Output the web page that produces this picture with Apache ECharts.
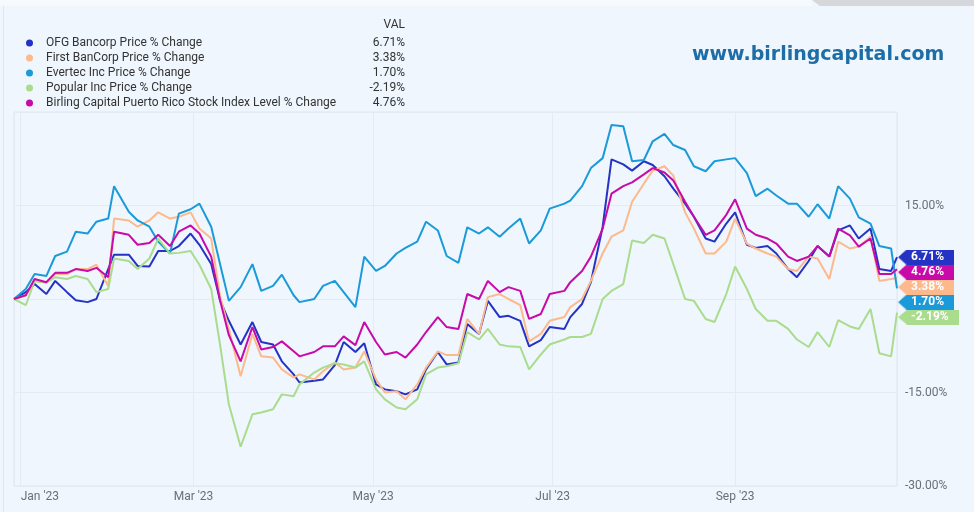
<!DOCTYPE html>
<html>
<head>
<meta charset="utf-8">
<script src="https://cdn.jsdelivr.net/npm/echarts@6/dist/echarts.min.js"></script>
<style>
html, body { margin: 0; padding: 0; background: #eff6fd; }
#main { width: 974px; height: 512px; }
</style>
</head>
<body>
<div id="main"></div>
<script>
var dates = ['2022-12-30','2023-01-03','2023-01-06','2023-01-10','2023-01-13','2023-01-17','2023-01-20','2023-01-24','2023-01-27','2023-01-31',
  '2023-02-02','2023-02-07','2023-02-10','2023-02-14','2023-02-17','2023-02-21','2023-02-24','2023-02-28','2023-03-03','2023-03-07',
  '2023-03-10','2023-03-13','2023-03-17','2023-03-21','2023-03-24','2023-03-28','2023-03-31','2023-04-04','2023-04-06','2023-04-11',
  '2023-04-14','2023-04-18','2023-04-21','2023-04-25','2023-04-28','2023-05-02','2023-05-05','2023-05-09','2023-05-12','2023-05-16',
  '2023-05-19','2023-05-23','2023-05-26','2023-05-30','2023-06-02','2023-06-06','2023-06-09','2023-06-13','2023-06-16','2023-06-20',
  '2023-06-23','2023-06-27','2023-06-30','2023-07-05','2023-07-07','2023-07-11','2023-07-14','2023-07-18','2023-07-21','2023-07-25',
  '2023-07-28','2023-08-01','2023-08-04','2023-08-08','2023-08-11','2023-08-15','2023-08-18','2023-08-22','2023-08-25','2023-08-29',
  '2023-09-01','2023-09-05','2023-09-08','2023-09-12','2023-09-15','2023-09-19','2023-09-22','2023-09-26','2023-09-29','2023-10-03',
  '2023-10-06','2023-10-10','2023-10-13','2023-10-17','2023-10-20','2023-10-24','2023-10-26'];

var ofg = [0, 1.1, 2.4, 0.8, 2.9, 1.1, -0.2, -0.5, 0, 4.8,
  7.1, 7.1, 5.3, 5.2, 7.7, 7.7, 8.5, 10.5, 8.7, 5.6,
  -0.2, -3.5, -7.3, -3.7, -6.9, -7.3, -10.0, -12.1, -13.4, -13.1,
  -12.9, -10.6, -6.9, -8.5, -7.1, -13.7, -14.5, -14.8, -15.3, -14.5,
  -11.3, -8.5, -10.5, -10.2, -4.0, -5.6, -0.3, -2.9, -2.7, -3.5,
  -7.6, -6.6, -4.5, -4.8, -2.9, -0.8, 2.7, 11.6, 22.4, 21.6,
  20.6, 22.1, 21.5, 19.7, 17.7, 15.3, 13.2, 9.7, 9.2, 12.1,
  13.9, 8.7, 8.2, 8.5, 7.3, 4.8, 3.5, 6.1, 8.5, 6.8,
  11.0, 11.8, 9.7, 11.3, 4.8, 4.5, 6.71];

var firstBancorp = [0, 0.6, 2.9, 2.7, 4.0, 4.0, 4.8, 4.8, 5.5, 2.1,
  12.9, 12.6, 11.6, 12.6, 13.9, 12.9, 13.2, 13.9, 11.3, 9.7,
  0.5, -4.8, -12.4, -5.6, -9.2, -9.4, -11.3, -12.6, -12.1, -12.9,
  -11.6, -10.2, -11.3, -11.0, -8.4, -12.9, -15.0, -14.8, -16.1, -13.7,
  -11.0, -8.4, -9.0, -9.0, -3.2, -5.6, 0.3, 0.8, 0, -1.0,
  -6.8, -5.6, -3.5, -2.9, -1.3, 0, 2.9, 7.3, 10.0, 11.0,
  15.6, 18.5, 20.6, 21.3, 19.8, 13.9, 11.3, 7.3, 7.3, 9.2,
  12.9, 8.9, 8.1, 7.3, 6.8, 4.8, 4.5, 6.8, 6.5, 3.2,
  9.2, 8.1, 8.4, 10.0, 2.9, 3.2, 3.38];

var evertec = [0, 1.6, 4.0, 3.7, 6.9, 7.6, 10.8, 10.5, 12.4, 12.9,
  18.1, 14.0, 12.6, 11.6, 9.2, 7.3, 13.7, 14.4, 15.3, 11.6,
  5.6, -0.3, 1.9, 5.6, 1.3, 2.1, 3.9, 0.6, -0.5, 0,
  2.1, 2.9, 1.1, -1.3, 6.8, 4.5, 5.3, 7.3, 8.2, 9.2,
  12.4, 11.0, 6.9, 5.8, 11.5, 10.5, 11.5, 10.0, 11.3, 12.9,
  8.9, 11.0, 14.5, 15.3, 15.8, 18.1, 21.0, 22.6, 27.9, 27.7,
  22.1, 22.3, 25.3, 26.5, 24.7, 23.9, 21.3, 20.5, 22.1, 22.4,
  22.6, 20.2, 16.5, 17.7, 16.6, 15.3, 15.3, 13.2, 15.2, 12.9,
  18.1, 16.1, 13.1, 12.1, 8.5, 8.1, 1.70];

var popular = [0, -1.0, 2.9, 2.6, 3.5, 3.2, 3.7, 3.2, 1.1, 1.6,
  6.5, 6.1, 4.8, 6.5, 9.7, 7.3, 7.4, 7.7, 5.5, 1.6,
  -7.3, -16.9, -23.7, -18.5, -18.2, -17.7, -15.3, -15.6, -13.7, -11.8,
  -11.0, -10.3, -10.5, -11.0, -10.0, -14.5, -16.1, -17.4, -17.7, -16.1,
  -12.1, -11.0, -10.8, -10.3, -5.3, -6.5, -4.8, -7.3, -7.6, -7.7,
  -11.3, -8.9, -7.3, -6.5, -6.1, -6.1, -5.6, 0, 1.3, 2.4,
  9.4, 9.0, 10.3, 9.7, 5.6, 0, -0.3, -3.2, -3.7, 0.8,
  5.2, 1.6, -1.6, -3.5, -3.5, -4.8, -6.5, -7.7, -5.3, -7.7,
  -3.4, -4.4, -4.8, -1.6, -8.7, -9.2, -2.19];

var birlingIndex = [0, 0.6, 3.2, 2.7, 4.2, 4.2, 4.8, 4.5, 5.0, 3.5,
  10.8, 10.3, 8.7, 9.0, 10.3, 8.5, 10.8, 11.8, 10.5, 6.8,
  -0.2, -5.8, -10.0, -4.5, -8.1, -7.7, -6.8, -8.4, -9.2, -8.5,
  -7.6, -7.6, -6.0, -7.4, -3.7, -6.9, -8.9, -8.5, -9.4, -7.3,
  -5.3, -2.9, -4.5, -4.8, 0.8, 0, 2.9, 1.1, 1.9, 1.3,
  -3.2, -2.4, 0.8, 1.3, 2.7, 4.5, 6.8, 11.3, 16.9, 18.1,
  18.7, 20.0, 21.0, 20.3, 19.0, 15.6, 13.2, 10.3, 11.0, 13.5,
  16.0, 11.3, 10.3, 9.7, 8.9, 6.8, 6.1, 6.8, 8.5, 6.8,
  11.3, 10.2, 8.4, 9.7, 4.0, 4.0, 4.76];

var names = ['OFG Bancorp Price % Change', 'First BanCorp Price % Change', 'Evertec Inc Price % Change',
  'Popular Inc Price % Change', 'Birling Capital Puerto Rico Stock Index Level % Change'];
var colors = ['#2433c4', '#fdb98c', '#1a9ad8', '#a9dc8c', '#c70aa8'];
var values = [ofg, firstBancorp, evertec, popular, birlingIndex];
var monthNames = ['Jan','Feb','Mar','Apr','May','Jun','Jul','Aug','Sep','Oct','Nov','Dec'];

function pct(v) { return v.toFixed(2) + '%'; }

// tag shape with a left arrow, used as label background
function tagImage(color) {
  var c = document.createElement('canvas');
  c.width = 60; c.height = 14;
  var ctx = c.getContext('2d');
  ctx.fillStyle = color;
  ctx.beginPath();
  ctx.moveTo(0, 7); ctx.lineTo(9, 0); ctx.lineTo(60, 0); ctx.lineTo(60, 14); ctx.lineTo(9, 14);
  ctx.closePath();
  ctx.fill();
  return c;
}

var lastVal = {};
var series = names.map(function (n, i) {
  var arr = values[i];
  lastVal[n] = pct(arr[arr.length - 1]);
  return {
    name: n,
    type: 'line',
    showSymbol: false,
    symbol: 'none',
    data: dates.map(function (d, k) { return [d, arr[k]]; }),
    lineStyle: { width: 2, color: colors[i] },
    itemStyle: { color: colors[i] },
    endLabel: {
      show: true,
      distance: 1,
      formatter: function (p) { return pct(p.value[1]); },
      color: '#fff',
      fontFamily: 'Roboto',
      fontWeight: 'bold',
      fontSize: 12,
      lineHeight: 14,
      padding: [1, 10, 0, 13],
      backgroundColor: { image: tagImage(colors[i]) }
    },
    labelLayout: { moveOverlap: 'shiftY' }
  };
});

var myChart = echarts.init(document.getElementById('main'));
var option = {
  animation: false,
  backgroundColor: '#eff6fd',
  textStyle: { fontFamily: 'Roboto' },
  graphic: [
    { type: 'rect', shape: { x: 0, y: 0, width: 812, height: 6 }, style: { fill: '#f7fafd' } },
    { type: 'polygon', shape: { points: [[812, 0], [974, 0], [974, 6], [820, 6]] }, style: { fill: '#d5d7da' } },
    { type: 'line', shape: { x1: 3.5, y1: 6, x2: 3.5, y2: 512 }, style: { stroke: '#dde5ee', lineWidth: 1 } },
    { type: 'text', style: { x: 405, y: 25, text: 'VAL', align: 'right', verticalAlign: 'middle',
      font: '12px Roboto', fill: '#333' } },
    { type: 'text', style: { x: 692, y: 55, text: 'www.birlingcapital.com', verticalAlign: 'middle',
      font: 'bold 19px "DejaVu Sans"', fill: '#1d6ea6' } }
  ],
  legend: {
    orient: 'vertical',
    left: 21,
    top: 32,
    icon: 'circle',
    itemWidth: 7,
    itemHeight: 7,
    itemGap: 3,
    data: names,
    formatter: function (n) { return '{n|' + n + '}{v|' + lastVal[n] + '}'; },
    textStyle: {
      color: '#333',
      fontSize: 12,
      rich: {
        n: { width: 314, padding: [0, 0, 0, 8], fontSize: 12, color: '#333', lineHeight: 14 },
        v: { width: 45, align: 'right', fontSize: 12, color: '#333', lineHeight: 14 }
      }
    }
  },
  grid: {
    left: 14, right: 77, top: 112, bottom: 26,
    show: true, borderColor: '#e0e7ef', borderWidth: 1
  },
  xAxis: {
    type: 'time',
    min: '2022-12-30',
    max: '2023-10-26',
    splitNumber: 4,
    axisLine: { show: false },
    axisTick: { show: false },
    splitLine: { show: true, lineStyle: { color: '#e4ebf3' } },
    axisLabel: {
      color: '#6b6f76',
      fontSize: 12,
      margin: 5,
      hideOverlap: false,
      formatter: function (v) {
        var d = new Date(v);
        if (d.getDate() !== 1) return '';
        var s = monthNames[d.getMonth()] + " '" + String(d.getFullYear()).slice(2);
        if (d.getMonth() === 0) return '{j|' + s + '}';
        return s;
      },
      rich: { j: { padding: [0, 0, 0, 40], color: '#6b6f76', fontSize: 12 } }
    }
  },
  yAxis: {
    type: 'value',
    position: 'right',
    min: -30,
    max: 30,
    interval: 15,
    axisLine: { show: false },
    axisTick: { show: false },
    splitLine: { lineStyle: { color: '#e4ebf3' } },
    axisLabel: {
      color: '#6b6f76',
      fontSize: 12,
      margin: 8,
      formatter: function (v) { return (v === 0 || v === 30) ? '' : pct(v); }
    }
  },
  series: series
};
myChart.setOption(option);
</script>
</body>
</html>
